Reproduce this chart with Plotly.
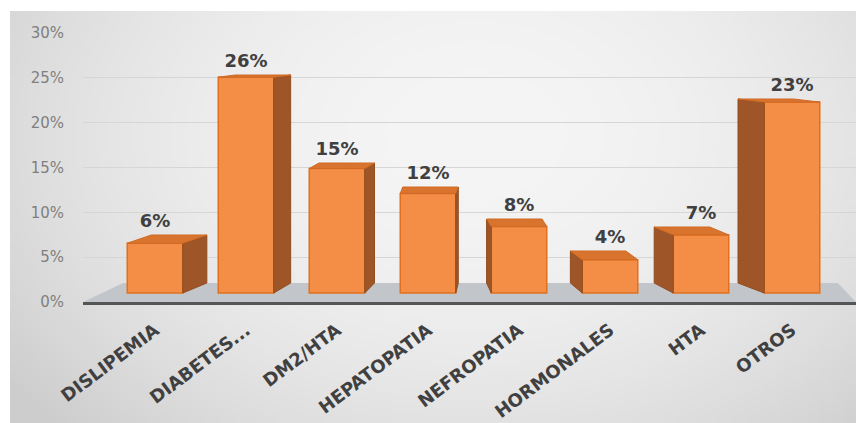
import base64, struct, zlib
import numpy as np
import plotly.graph_objects as go

categories = ["DISLIPEMIA", "DIABETES...", "DM2/HTA", "HEPATOPATIA",
              "NEFROPATIA", "HORMONALES", "HTA", "OTROS"]
values = [6, 26, 15, 12, 8, 4, 7, 23]
labels = ["6%", "26%", "15%", "12%", "8%", "4%", "7%", "23%"]
tick_vals = [0, 5, 10, 15, 20, 25, 30]
tick_text = ["0%", "5%", "10%", "15%", "20%", "25%", "30%"]

# ---- background gradient image (generated locally) ----
def make_png(arr):
    h, w = arr.shape
    raw = b"".join(b"\x00" + arr[r].astype(np.uint8).tobytes() for r in range(h))
    def chunk(tag, data):
        c = struct.pack(">I", len(data)) + tag + data
        return c + struct.pack(">I", zlib.crc32(tag + data) & 0xffffffff)
    return (b"\x89PNG\r\n\x1a\n" + chunk(b"IHDR", struct.pack(">IIBBBBB", w, h, 8, 0, 0, 0, 0))
            + chunk(b"IDAT", zlib.compress(raw, 9)) + chunk(b"IEND", b""))

gw, gh = 212, 103
gx, gy = np.meshgrid(np.linspace(0, 1, gw), np.linspace(0, 1, gh))
d2 = ((gx - 0.55) / 0.6) ** 2 + ((gy - 0.3) / 0.9) ** 2
grad = np.clip(245 - 30 * d2, 205, 245)
bg_uri = "data:image/png;base64," + base64.b64encode(make_png(grad)).decode()

# ---- geometry of pseudo-3D faces (derived from values) ----
n = len(values)
bar_w = 0.61
vanish = 3.35
px_per_unit = 8.3

def depth_y(v):
    return (10 - 0.3 * v) / px_per_unit

side_x, side_y, top_x, top_y = [], [], [], []
for i, v in enumerate(values):
    dx = 0.079 * (vanish - i)
    xl, xr = i - bar_w / 2, i + bar_w / 2
    xe = xr if dx > 0 else xl
    dv = depth_y(v)
    d0 = depth_y(0)
    side_x += [xe, xe, xe + dx, xe + dx, xe, None]
    side_y += [0, v, v + dv, d0, 0, None]
    top_x += [xl, xr, xr + dx, xl + dx, xl, None]
    top_y += [v, v, v + dv, v + dv, v, None]

label_y = [v + depth_y(v) + 0.4 for v in values]

fig = go.Figure()
fig.add_trace(go.Scatter(x=side_x, y=side_y, fill="toself", mode="lines",
                         fillcolor="#9e5628", line=dict(color="#914c1e", width=1),
                         hoverinfo="skip", showlegend=False))
fig.add_trace(go.Scatter(x=top_x, y=top_y, fill="toself", mode="lines",
                         fillcolor="#d9742f", line=dict(color="#d06a25", width=1),
                         hoverinfo="skip", showlegend=False))
fig.add_trace(go.Bar(x=list(range(n)), y=values, width=bar_w,
                     marker=dict(color="#f48e47", line=dict(color="#e0701f", width=1.5)),
                     showlegend=False))
fig.add_trace(go.Scatter(x=list(range(n)), y=label_y, text=labels, mode="text",
                         textposition="top center",
                         textfont=dict(family="DejaVu Sans", size=18, color="#404040", weight="bold"),
                         showlegend=False, hoverinfo="skip"))
# back-wall scale (invisible trace so the axis is rendered)
fig.add_trace(go.Scatter(x=[0], y=[0], yaxis="y2", mode="markers",
                         marker=dict(opacity=0), showlegend=False, hoverinfo="skip"))

y0 = -9 / px_per_unit
y1 = y0 + 269 / px_per_unit
xr0 = (83 - 155) / 91
xr1 = (856 - 155) / 91

fig.add_shape(type="path", xref="x", yref="y", layer="below",
              path=f"M {xr0},{y0} L {xr1},{y0} L {xr1-0.2},{depth_y(0)} L {xr0+0.44},{depth_y(0)} Z",
              fillcolor="#c2c6cb", line=dict(width=0))

fig.add_layout_image(dict(source=bg_uri, xref="paper", yref="paper",
                          x=(10 - 83) / 773, y=(302 - 11) / 269,
                          sizex=846 / 773, sizey=412 / 269,
                          sizing="stretch", layer="below", xanchor="left", yanchor="top"))

fig.update_layout(
    width=856, height=423,
    margin=dict(l=83, r=0, t=33, b=121),
    paper_bgcolor="white", plot_bgcolor="rgba(0,0,0,0)",
    xaxis=dict(range=[xr0, xr1], tickmode="array", tickvals=list(range(n)),
               ticktext=categories, tickangle=-37, showgrid=False, zeroline=False,
               showline=True, linecolor="#555555", linewidth=2.5,
               ticklabelstandoff=8,
               tickfont=dict(family="DejaVu Sans", size=18, color="#404040", weight="bold")),
    yaxis=dict(range=[y0, y1], showticklabels=False, showgrid=False, zeroline=False),
    yaxis2=dict(range=[0, 30], overlaying="y", side="left", tickmode="array",
                tickvals=tick_vals, ticktext=tick_text, showgrid=True,
                gridcolor="#d6d6d6", gridwidth=1, zeroline=False,
                ticklabelstandoff=18,
                tickfont=dict(family="DejaVu Sans", size=15, color="#7f7f7f")),
)

fig.write_html("out.html")
